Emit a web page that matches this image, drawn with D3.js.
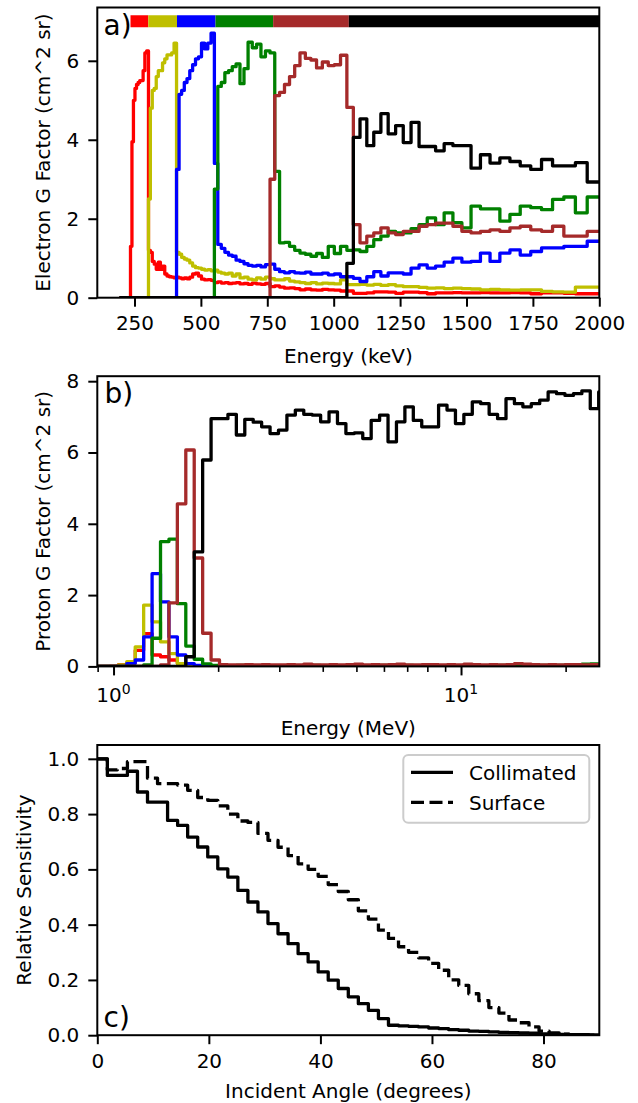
<!DOCTYPE html>
<html>
<head>
<meta charset="utf-8">
<script src="https://cdn.jsdelivr.net/npm/d3@7"></script>
<style>
  body { margin: 0; background: #fff; }
  svg { display: block; font-family: "DejaVu Sans", sans-serif; }
</style>
</head>
<body>
<svg id="chart"></svg>
<script>
// ---- electron channels (panel a), 100 log bins 200..2000 keV ----
const eLo = 200, eHi = 2000, eBinCount = 100;
const eRed = [0,0,0,0,0,0,0,
  1.3,3.95,5.0,5.3,5.4,5.45,5.5,5.5,5.75,6.2,6.25,
  1.2,1.15,0.92,0.85,0.72,0.9,0.72,0.8,0.6,0.55,0.53,
  0.52,0.5,0.52,0.5,0.48,0.5,0.48,0.52,0.6,0.62,0.55,0.47,0.45,0.46,0.44,
  0.38,0.4,0.37,0.38,0.36,0.37,0.38,0.35,0.36,0.34,0.37,0.35,0.34,0.36,
  0.28,0.3,0.27,0.24,0.25,0.23,0.2,0.22,0.2,0.19,0.21,0.2,0.19,
  0.17,0.17,0.11,0.11,0.12,0.15,0.15,0.14,0.11,0.14,0.14,0.13,0.1,0.12,0.12,0.13,0.12,0.12,0.13,0.12,
  0.12,0.13,0.12,0.1,0.12,0.12,0.11,0.1,0.1];
const eYellow = [0,0,0,0,0,0,0,0,0,0,0,0,0,0,0,0,0,0,
  2.5,4.8,5.25,5.3,5.6,5.75,5.75,5.95,6.05,6.15,6.15,6.2,6.45,
  1.15,1.1,1.02,0.98,0.95,0.88,0.8,0.76,0.75,0.72,
  0.7,0.71,0.68,0.7,0.65,0.62,0.6,0.62,0.55,0.6,
  0.5,0.52,0.47,0.45,0.5,0.47,0.52,0.48,0.45,0.45,
  0.48,0.42,0.4,0.38,0.36,0.38,0.35,0.37,0.36,0.35,0.45,
  0.33,0.33,0.34,0.32,0.34,0.31,0.33,0.3,0.28,0.28,0.26,
  0.24,0.25,0.23,0.24,0.23,0.22,0.2,0.21,0.2,0.19,0.2,0.2,0.16,0.15,0.14,0.27,0.27];
const eBlue = [0,0,0,0,0,0,0,0,0,0,0,0,0,0,0,0,0,0,0,0,0,0,0,0,0,0,0,0,0,0,0,
  3.25,5.15,5.25,5.45,5.55,5.75,5.9,6.05,6.1,6.45,6.3,6.45,6.7,3.4,
  1.35,1.25,1.15,1.08,1.05,0.95,0.92,0.86,0.82,0.8,
  0.82,0.78,0.84,0.85,0.72,0.66,0.63,0.66,0.63,0.62,0.65,0.6,0.6,0.62,0.58,0.6,
  0.53,0.53,0.49,0.41,0.53,0.66,0.55,0.63,0.63,0.6,
  0.75,0.83,0.75,0.8,0.9,1.0,0.9,0.92,1.13,0.92,
  1.13,1.21,1.08,1.17,1.26,1.26,1.3,1.3,1.43];
const eGreen = [0,0,0,0,0,0,0,0,0,0,0,0,0,0,0,0,0,0,0,0,0,0,0,0,0,0,0,0,0,0,0,0,0,0,0,0,0,0,0,0,0,0,0,0,
  2.75,5.35,5.45,5.7,5.75,5.85,5.92,5.42,5.8,6.47,6.33,6.42,6.1,6.25,6.2,3.2,
  1.39,1.4,1.3,1.2,1.13,1.1,1.05,1.12,1.02,1.3,1.12,1.3,1.2,
  1.21,1.17,1.3,1.47,1.56,1.68,1.64,1.64,
  1.75,1.85,2.02,1.85,2.15,1.9,1.77,2.32,2.25,2.25,
  1.94,2.11,2.32,2.28,2.23,2.49,2.55,2.15,2.55];
const eBrown = [0,0,0,0,0,0,0,0,0,0,0,0,0,0,0,0,0,0,0,0,0,0,0,0,0,0,0,0,0,0,0,0,0,0,0,0,0,0,0,0,0,0,0,0,0,0,0,0,0,0,0,0,0,0,0,0,0,0,
  3.0,5.12,5.2,5.4,5.6,5.88,6.2,6.06,6.02,5.82,5.97,5.88,5.9,6.14,4.82,
  1.85,1.39,1.56,1.64,1.77,1.64,1.6,1.68,
  1.68,1.81,1.85,1.89,1.89,1.81,1.68,1.64,1.68,1.72,
  1.68,1.77,1.81,1.72,1.68,1.81,1.56,1.56,1.68];
const eBlack = [0,0,0,0,0,0,0,0,0,0,0,0,0,0,0,0,0,0,0,0,0,0,0,0,0,0,0,0,0,0,0,0,0,0,0,0,0,0,0,0,0,0,0,0,0,0,0,0,0,0,0,0,0,0,0,0,0,0,0,0,0,0,0,0,0,0,0,0,0,0,0,0,
  0.87,4.06,4.53,3.85,4.19,4.66,4.15,4.36,
  3.93,4.44,3.83,3.83,3.72,3.9,3.85,3.85,3.28,3.62,
  3.41,3.54,3.45,3.34,3.25,3.5,3.34,3.34,3.42,2.93];
const channelEdges = [235, 302, 410, 555, 772, 1057, 2000];
const channelLevel = 7;

// ---- proton response (panel b), log bins ----
const pLogStart = -0.0588, pLogStep = 0.02425, pBinCount = 61;
const pRed = [0,0,0.01,0.05,0.1,0.45,0.92,0.32,0.27,0.18,
  0.08,0.03,0.02,0.02,0.01,0.02,0.01,0.01,0.02,0.01,
  0.01,0.02,0.01,0.01,0.02,0.01,0.02,0.01,0.01,0.02,
  0.01,0.01,0.02,0.01,0.02,0.01,0.01,0.02,0.01,0.01,
  0.02,0.01,0.01,0.02,0.01,0.02,0.01,0.01,0.02,0.01,
  0.01,0.02,0.01,0.01,0.02,0.01,0.02,0.01,0.01,0.02,0.01];
const pYellow = [0,0,0,0.04,0.13,0.55,1.72,1.25,0.69,0.36,
  0.08,0.03,0.02,0.01,0.02,0.01,0.01,0.02,0.01,0.01,
  0.02,0.01,0.01,0.02,0.01,0.01,0.02,0.01,0.01,0.02,
  0.01,0.02,0.01,0.01,0.02,0.01,0.01,0.02,0.01,0.01,
  0.02,0.01,0.02,0.01,0.01,0.02,0.01,0.01,0.02,0.01,
  0.01,0.02,0.01,0.01,0.02,0.01,0.01,0.02,0.01,0.02,0.01];
const pBlue = [0,0,0,0,0.08,0.18,0.83,2.6,1.81,0.83,
  0.32,0.08,0.03,0.02,0.01,0.02,0.01,0.01,0.02,0.01,
  0.01,0.02,0.01,0.02,0.01,0.01,0.02,0.01,0.02,0.01,
  0.01,0.02,0.01,0.01,0.02,0.01,0.02,0.01,0.01,0.02,
  0.01,0.01,0.02,0.01,0.02,0.01,0.01,0.02,0.01,0.01,
  0.02,0.01,0.02,0.01,0.01,0.02,0.03,0.02,0.01,0.02,0.02];
const pGreen = [0,0,0,0,0,0,0.04,0.79,3.5,3.57,
  1.76,0.57,0.2,0.07,0.03,0.02,0.02,0.03,0.02,0.02,
  0.03,0.02,0.02,0.03,0.02,0.02,0.03,0.02,0.03,0.02,
  0.02,0.03,0.02,0.02,0.03,0.02,0.02,0.03,0.02,0.03,
  0.02,0.02,0.03,0.02,0.02,0.03,0.02,0.02,0.03,0.02,
  0.03,0.02,0.02,0.03,0.02,0.03,0.04,0.03,0.06,0.07,0.06];
const pBrown = [0,0,0,0,0,0,0,0,0.04,1.78,
  4.56,6.07,3.04,0.93,0.18,0.05,0.04,0.04,0.05,0.04,
  0.05,0.04,0.04,0.05,0.04,0.06,0.04,0.04,0.05,0.04,
  0.05,0.06,0.04,0.05,0.04,0.05,0.06,0.04,0.04,0.05,
  0.05,0.04,0.05,0.04,0.06,0.05,0.04,0.05,0.04,0.05,
  0.08,0.06,0.05,0.04,0.05,0.04,0.05,0.05,0.04,0.05,0.05];
const pBlack = [0,0,0,0,0,0,0,0,0,0,0,
  0.27,3.21,5.79,6.95,6.95,7.07,6.49,6.93,6.85,6.72,
  6.53,6.63,7.05,7.19,7.07,7.05,6.86,7.14,6.81,6.53,
  6.55,6.39,6.9,7.05,6.3,6.86,7.28,6.9,6.72,6.72,
  7.33,7.19,6.81,7.07,7.42,7.37,7.07,6.95,7.51,7.37,
  7.28,7.37,7.47,7.7,7.65,7.6,7.65,7.73,7.23,7.7];

// ---- angular response (panel c), 1.8 degree bins ----
const aBinWidth = 1.8, aBinCount = 50;
const collimated = [1.0,0.94,0.94,0.955,0.88,0.843,0.843,0.777,0.759,0.717,
  0.681,0.645,0.602,0.572,0.524,0.482,0.446,0.404,0.367,0.331,
  0.295,0.265,0.229,0.199,0.169,0.139,0.114,0.09,0.06,0.036,
  0.034,0.032,0.03,0.026,0.024,0.02,0.018,0.015,0.014,0.012,
  0.01,0.009,0.008,0.007,0.005,0.004,0.003,0.002,0.002,0.001];
const surface = [1.0,0.96,0.965,0.99,0.99,0.93,0.91,0.91,0.905,0.886,
  0.86,0.85,0.83,0.8,0.775,0.77,0.73,0.705,0.68,0.65,
  0.62,0.6,0.575,0.545,0.52,0.49,0.45,0.42,0.38,0.35,
  0.32,0.3,0.28,0.26,0.235,0.2,0.18,0.15,0.125,0.1,
  0.08,0.055,0.045,0.03,0.015,0.008,0.004,0.002,0.001,0];
const legendLabels = ["Collimated", "Surface"];

const colors = ["#ff0000", "#bfbf00", "#0000ff", "#008000", "#a52a2a", "#000000"];

const eEdges = d3.range(eBinCount + 1).map(i => eLo * Math.pow(eHi / eLo, i / eBinCount));
const pEdges = d3.range(pBinCount + 1).map(k => Math.pow(10, pLogStart + pLogStep * k));
const aEdges = d3.range(aBinCount + 1).map(k => k * aBinWidth);

const W = 638, H = 1103;
const left = 97.3, right = 599.3, panelH = 290.2;
const tops = [7.5, 376.2, 745];
const fontSize = 20;
const lineW = 3.3;
const dash = "13,5.5";

const svg = d3.select("#chart").attr("width", W).attr("height", H);

const xA = d3.scaleLinear().domain([110, 2000]).range([left, right]);
const yA = d3.scaleLinear().domain([0, 7.35]).range([tops[0] + panelH, tops[0]]);
const xB = d3.scaleLog().domain([0.898, 25]).range([left, right]);
const yB = d3.scaleLinear().domain([0, 8.14]).range([tops[1] + panelH, tops[1]]);
const xC = d3.scaleLinear().domain([0, 90]).range([left, right]);
const yC = d3.scaleLinear().domain([0, 1.05]).range([tops[2] + panelH, tops[2]]);

tops.forEach((t, i) => {
    svg.append("clipPath").attr("id", "clip" + i)
        .append("rect")
        .attr("x", left).attr("y", t)
        .attr("width", right - left).attr("height", panelH);
});

function steps(g, edges, values, x, y, color, dashed) {
    const pts = values.map((v, i) => [edges[i], v]);
    pts.push([edges[values.length], values[values.length - 1]]);
    const line = d3.line().x(d => x(d[0])).y(d => y(d[1])).curve(d3.curveStepAfter);
    g.append("path")
        .datum(pts)
        .attr("d", line)
        .attr("fill", "none")
        .attr("stroke", color)
        .attr("stroke-width", lineW)
        .attr("stroke-linejoin", "round")
        .attr("stroke-linecap", dashed ? "butt" : "square")
        .attr("stroke-dasharray", dashed ? dash : null);
}

function bottomAxis(x, top, ticks, fmt) {
    const g = svg.append("g")
        .attr("transform", `translate(0,${top + panelH})`)
        .call(d3.axisBottom(x).tickValues(ticks).tickFormat(fmt)
            .tickSize(9).tickPadding(9.5).tickSizeOuter(0));
    g.select(".domain").remove();
    g.attr("font-size", fontSize).attr("font-family", "DejaVu Sans");
    g.selectAll("line").attr("stroke-width", 2);
    return g;
}

function leftAxis(y, ticks, fmt) {
    const g = svg.append("g")
        .attr("transform", `translate(${left},0)`)
        .call(d3.axisLeft(y).tickValues(ticks).tickFormat(fmt)
            .tickSize(9).tickPadding(9).tickSizeOuter(0));
    g.select(".domain").remove();
    g.attr("font-size", fontSize).attr("font-family", "DejaVu Sans");
    g.selectAll("line").attr("stroke-width", 2);
    return g;
}

function frame(top) {
    svg.append("rect")
        .attr("x", left).attr("y", top)
        .attr("width", right - left).attr("height", panelH)
        .attr("fill", "none").attr("stroke", "#000").attr("stroke-width", 2);
}

function label(text, x, y, rotate, size) {
    const t = svg.append("text")
        .attr("font-size", size || fontSize)
        .attr("fill", "#000")
        .text(text);
    if (rotate) {
        t.attr("text-anchor", "middle").attr("transform", `translate(${x},${y}) rotate(-90)`);
    } else {
        t.attr("x", x).attr("y", y).attr("text-anchor", size ? "start" : "middle");
    }
    return t;
}

const midX = (left + right) / 2;

// ---- panel a ----
const gA = svg.append("g").attr("clip-path", "url(#clip0)");
[eRed, eYellow, eBlue, eGreen, eBrown, eBlack].forEach((s, i) =>
    steps(gA, eEdges, s, xA, yA, colors[i], false));
channelEdges.slice(0, -1).forEach((e, i) => {
    gA.append("line")
        .attr("x1", xA(e)).attr("x2", xA(channelEdges[i + 1]))
        .attr("y1", yA(channelLevel)).attr("y2", yA(channelLevel))
        .attr("stroke", colors[i]).attr("stroke-width", 12);
});
frame(tops[0]);
bottomAxis(xA, tops[0], d3.range(250, 2001, 250), d3.format("d"));
leftAxis(yA, [0, 2, 4, 6], d3.format("d"));
label("Energy (keV)", midX, 362.5);
label("Electron G Factor (cm^2 sr)", 50, tops[0] + panelH / 2, true);
label("a)", 103.5, 35, false, 28);

// ---- panel b ----
const gB = svg.append("g").attr("clip-path", "url(#clip1)");
[pRed, pYellow, pBlue, pGreen, pBrown, pBlack].forEach((s, i) =>
    steps(gB, pEdges, s, xB, yB, colors[i], false));
frame(tops[1]);
const majorB = [1, 10];
bottomAxis(xB, tops[1], majorB, () => "");
const minorB = [0.9, 2, 3, 4, 5, 6, 7, 8, 9, 20];
const gMinor = svg.append("g")
    .attr("transform", `translate(0,${tops[1] + panelH})`)
    .call(d3.axisBottom(xB).tickValues(minorB).tickFormat(() => "").tickSize(5.5).tickSizeOuter(0));
gMinor.select(".domain").remove();
gMinor.selectAll("line").attr("stroke-width", 1.6);
majorB.forEach(v => {
    const t = svg.append("text")
        .attr("x", xB(v)).attr("y", 702)
        .attr("text-anchor", "middle")
        .attr("font-size", fontSize);
    t.append("tspan").text("10");
    t.append("tspan").attr("dy", -8.5).attr("font-size", 14).text(String(Math.round(Math.log10(v))));
});
leftAxis(yB, [0, 2, 4, 6, 8], d3.format("d"));
label("Energy (MeV)", midX, 734.5);
label("Proton G Factor (cm^2 sr)", 50, tops[1] + panelH / 2, true);
label("b)", 104.5, 403, false, 28);

// ---- panel c ----
const gC = svg.append("g").attr("clip-path", "url(#clip2)");
steps(gC, aEdges, collimated, xC, yC, "#000", false);
steps(gC, aEdges, surface, xC, yC, "#000", true);
frame(tops[2]);
bottomAxis(xC, tops[2], [0, 20, 40, 60, 80], d3.format("d"));
leftAxis(yC, [0, 0.2, 0.4, 0.6, 0.8, 1.0], d3.format(".1f"));
label("Incident Angle (degrees)", midX, 1097.5);
label("Relative Sensitivity", 31, tops[2] + panelH / 2, true);
label("c)", 103.5, 1027, false, 28);

// legend
const lg = svg.append("g");
lg.append("rect")
    .attr("x", 403.3).attr("y", 755)
    .attr("width", 186).attr("height", 67.7).attr("rx", 5)
    .attr("fill", "#fff").attr("fill-opacity", 0.8)
    .attr("stroke", "#cccccc").attr("stroke-width", 2);
legendLabels.forEach((name, i) => {
    const yy = 772.3 + i * 30;
    lg.append("line")
        .attr("x1", 411).attr("x2", 453).attr("y1", yy).attr("y2", yy)
        .attr("stroke", "#000").attr("stroke-width", lineW)
        .attr("stroke-dasharray", i === 1 ? dash : null);
    lg.append("text")
        .attr("x", 469).attr("y", yy + 7.3)
        .attr("font-size", fontSize).text(name);
});
</script>
</body>
</html>
